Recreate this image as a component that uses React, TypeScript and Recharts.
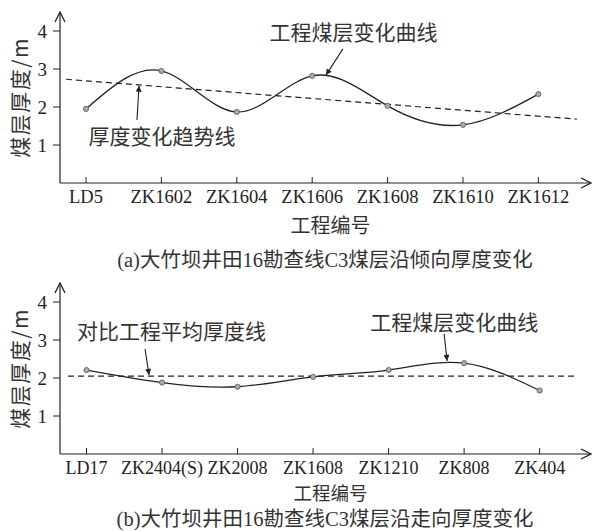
import React from 'react';
import { LineChart, Line, XAxis, YAxis, ReferenceLine, ReferenceDot } from 'recharts';

// ---- Chart (a): dip direction ----
const catsA = ['LD5', 'ZK1602', 'ZK1604', 'ZK1606', 'ZK1608', 'ZK1610', 'ZK1612'];
const thickA = [1.95, 2.95, 1.87, 2.82, 2.03, 1.53, 2.34];
const trendAX = [-0.265, 6.51];
const trendAY = [2.73, 1.68];

// ---- Chart (b): strike direction ----
const catsB = ['LD17', 'ZK2404(S)', 'ZK2008', 'ZK1608', 'ZK1210', 'ZK808', 'ZK404'];
const thickB = [2.21, 1.88, 1.77, 2.03, 2.21, 2.39, 1.67];
const avgBX = [-0.245, 6.5];
const avgBY = [2.05, 2.05];

const yTicks = [1, 2, 3, 4];
const xTickIdx = [0, 1, 2, 3, 4, 5, 6];

const dataA = thickA.map((v, i) => ({ x: i, y: v }));
const trendA = trendAX.map((x, i) => ({ x, y: trendAY[i] }));
const dataB = thickB.map((v, i) => ({ x: i, y: v }));
const avgB = avgBX.map((x, i) => ({ x, y: avgBY[i] }));

const INK = '#222';
const SERIF = "'Liberation Serif', 'DejaVu Serif', serif";
const CJK = "'Noto Sans CJK SC', 'Noto Sans', sans-serif";

const makeXTick = (cats: string[], dy: number, fs: number) => (props: any) => {
  const { x, y, payload } = props;
  return (
    <g>
      <line x1={x} y1={y} x2={x} y2={y - 6} stroke={INK} strokeWidth={1} />
      <text x={x} y={y + dy} textAnchor="middle" dominantBaseline="central" fontSize={fs} fontFamily={SERIF} fill={INK}>
        {cats[payload.value]}
      </text>
    </g>
  );
};

const yLabel = (props: any) => {
  const vb = props.viewBox || { x: 59, y: 0, width: 1, height: 0 };
  const cx = vb.x + vb.width - 41;
  const cy = vb.y + vb.height / 2;
  return (
    <text x={cx} y={cy} transform={`rotate(-90 ${cx} ${cy})`} textAnchor="middle" dominantBaseline="central" fontSize={21} fontFamily={CJK} fill="#333" letterSpacing={1.5}>
      煤层厚度/m
    </text>
  );
};

const xLabel = (dy: number, fs: number) => (props: any) => {
  const vb = props.viewBox || { x: 0, y: 0, width: 0, height: 0 };
  const cx = vb.x + vb.width / 2 + 5;
  const cy = vb.y + dy;
  return (
    <text x={cx} y={cy} textAnchor="middle" dominantBaseline="central" fontSize={fs} fontFamily={CJK} fill="#333">
      工程编号
    </text>
  );
};

const annoStyle = { fontSize: 21, fontFamily: CJK, fill: '#333' };

const Markers = () => (
  <svg width={0} height={0} style={{ position: 'absolute' }}>
    <defs>
      <marker id="arrFill" viewBox="0 0 10 10" refX={10} refY={5} markerWidth={9} markerHeight={6} markerUnits="userSpaceOnUse" orient="auto">
        <path d="M0,0 L10,5 L0,10 z" fill={INK} />
      </marker>
      <marker id="arrOpen" viewBox="-1 -1 12 12" refX={10} refY={5} markerWidth={12} markerHeight={12} markerUnits="userSpaceOnUse" orient="auto-start-reverse">
        <path d="M0,0 L10,5 L0,10" fill="none" stroke={INK} strokeWidth={1.3} />
      </marker>
    </defs>
  </svg>
);

const dotStyle = { r: 2.6, fill: '#aaa', stroke: '#555', strokeWidth: 0.8 };

const captionStyle: React.CSSProperties = {
  position: 'absolute',
  left: 325,
  transform: 'translate(-50%, -50%)',
  whiteSpace: 'nowrap',
  fontSize: 20.5,
  lineHeight: 1,
  fontFamily: CJK,
  color: '#333',
};

export default function App() {
  return (
    <div style={{ position: 'absolute', left: 0, top: 0, width: 594, height: 531, background: '#fff', overflow: 'hidden' }}>
      <Markers />
      <div style={{ position: 'absolute', left: 0, top: 0 }}>
        <LineChart width={594} height={270} data={dataA} margin={{ top: 12, right: 3, bottom: 86, left: 59 }}>
          <XAxis
            dataKey="x"
            type="number"
            domain={[-0.345, 6.698]}
            allowDataOverflow
            ticks={xTickIdx}
            interval={0}
            height={1}
            tickSize={0}
            tickMargin={0}
            tickLine={false}
            tick={makeXTick(catsA, 14, 18.5)}
            axisLine={{ stroke: INK, strokeWidth: 1.2, markerEnd: 'url(#arrOpen)' }}
            label={{ content: xLabel(41, 20) }}
          />
          <YAxis
            type="number"
            domain={[0, 4.5]}
            allowDataOverflow
            ticks={yTicks}
            interval={0}
            width={1}
            tickSize={7}
            tickMargin={6}
            tick={{ fontSize: 19, fontFamily: SERIF, fill: INK }}
            tickLine={{ stroke: INK }}
            axisLine={{ stroke: INK, strokeWidth: 1.2, markerStart: 'url(#arrOpen)' }}
            label={{ content: yLabel }}
          />
          <Line data={trendA} dataKey="y" type="linear" stroke={INK} strokeWidth={1.2} strokeDasharray="6 4" dot={false} isAnimationActive={false} />
          <Line data={dataA} dataKey="y" type="natural" stroke={INK} strokeWidth={1.3} dot={dotStyle} isAnimationActive={false} />
          <ReferenceLine segment={[{ x: 3.408, y: 3.53 }, { x: 3.183, y: 2.84 }]} stroke={INK} strokeWidth={1.1} markerEnd="url(#arrFill)" />
          <ReferenceLine segment={[{ x: 0.676, y: 1.66 }, { x: 0.703, y: 2.56 }]} stroke={INK} strokeWidth={1.1} markerEnd="url(#arrFill)" />
          <ReferenceDot x={3.548} y={3.95} r={0} fill="none" stroke="none" label={{ value: '工程煤层变化曲线', position: 'center', ...annoStyle }} />
          <ReferenceDot x={1.008} y={1.21} r={0} fill="none" stroke="none" label={{ value: '厚度变化趋势线', position: 'center', ...annoStyle }} />
        </LineChart>
      </div>
      <div style={{ ...captionStyle, top: 259 }}>
        <span style={{ fontFamily: SERIF }}>(a)</span>大竹坝井田<span style={{ fontFamily: SERIF }}>16</span>勘查线<span style={{ fontFamily: SERIF }}>C3</span>煤层沿倾向厚度变化
      </div>

      <div style={{ position: 'absolute', left: 0, top: 270 }}>
        <LineChart width={594} height={261} data={dataB} margin={{ top: 13, right: 3, bottom: 76, left: 59 }}>
          <XAxis
            dataKey="x"
            type="number"
            domain={[-0.351, 6.68]}
            allowDataOverflow
            ticks={xTickIdx}
            interval={0}
            height={1}
            tickSize={0}
            tickMargin={0}
            tickLine={false}
            tick={makeXTick(catsB, 14, 18)}
            axisLine={{ stroke: INK, strokeWidth: 1.2, markerEnd: 'url(#arrOpen)' }}
            label={{ content: xLabel(37.5, 18.5) }}
          />
          <YAxis
            type="number"
            domain={[0, 4.5]}
            allowDataOverflow
            ticks={yTicks}
            interval={0}
            width={1}
            tickSize={7}
            tickMargin={6}
            tick={{ fontSize: 19, fontFamily: SERIF, fill: INK }}
            tickLine={{ stroke: INK }}
            axisLine={{ stroke: INK, strokeWidth: 1.2, markerStart: 'url(#arrOpen)' }}
            label={{ content: yLabel }}
          />
          <Line data={avgB} dataKey="y" type="linear" stroke={INK} strokeWidth={1.2} strokeDasharray="6 4" dot={false} isAnimationActive={false} />
          <Line data={dataB} dataKey="y" type="natural" stroke={INK} strokeWidth={1.3} dot={dotStyle} isAnimationActive={false} />
          <ReferenceLine segment={[{ x: 0.775, y: 2.76 }, { x: 0.828, y: 2.08 }]} stroke={INK} strokeWidth={1.1} markerEnd="url(#arrFill)" />
          <ReferenceLine segment={[{ x: 4.735, y: 3.16 }, { x: 4.775, y: 2.45 }]} stroke={INK} strokeWidth={1.1} markerEnd="url(#arrFill)" />
          <ReferenceDot x={1.126} y={3.21} r={0} fill="none" stroke="none" label={{ value: '对比工程平均厚度线', position: 'center', ...annoStyle }} />
          <ReferenceDot x={4.868} y={3.45} r={0} fill="none" stroke="none" label={{ value: '工程煤层变化曲线', position: 'center', ...annoStyle }} />
        </LineChart>
      </div>
      <div style={{ ...captionStyle, top: 518 }}>
        <span style={{ fontFamily: SERIF }}>(b)</span>大竹坝井田<span style={{ fontFamily: SERIF }}>16</span>勘查线<span style={{ fontFamily: SERIF }}>C3</span>煤层沿走向厚度变化
      </div>
    </div>
  );
}
